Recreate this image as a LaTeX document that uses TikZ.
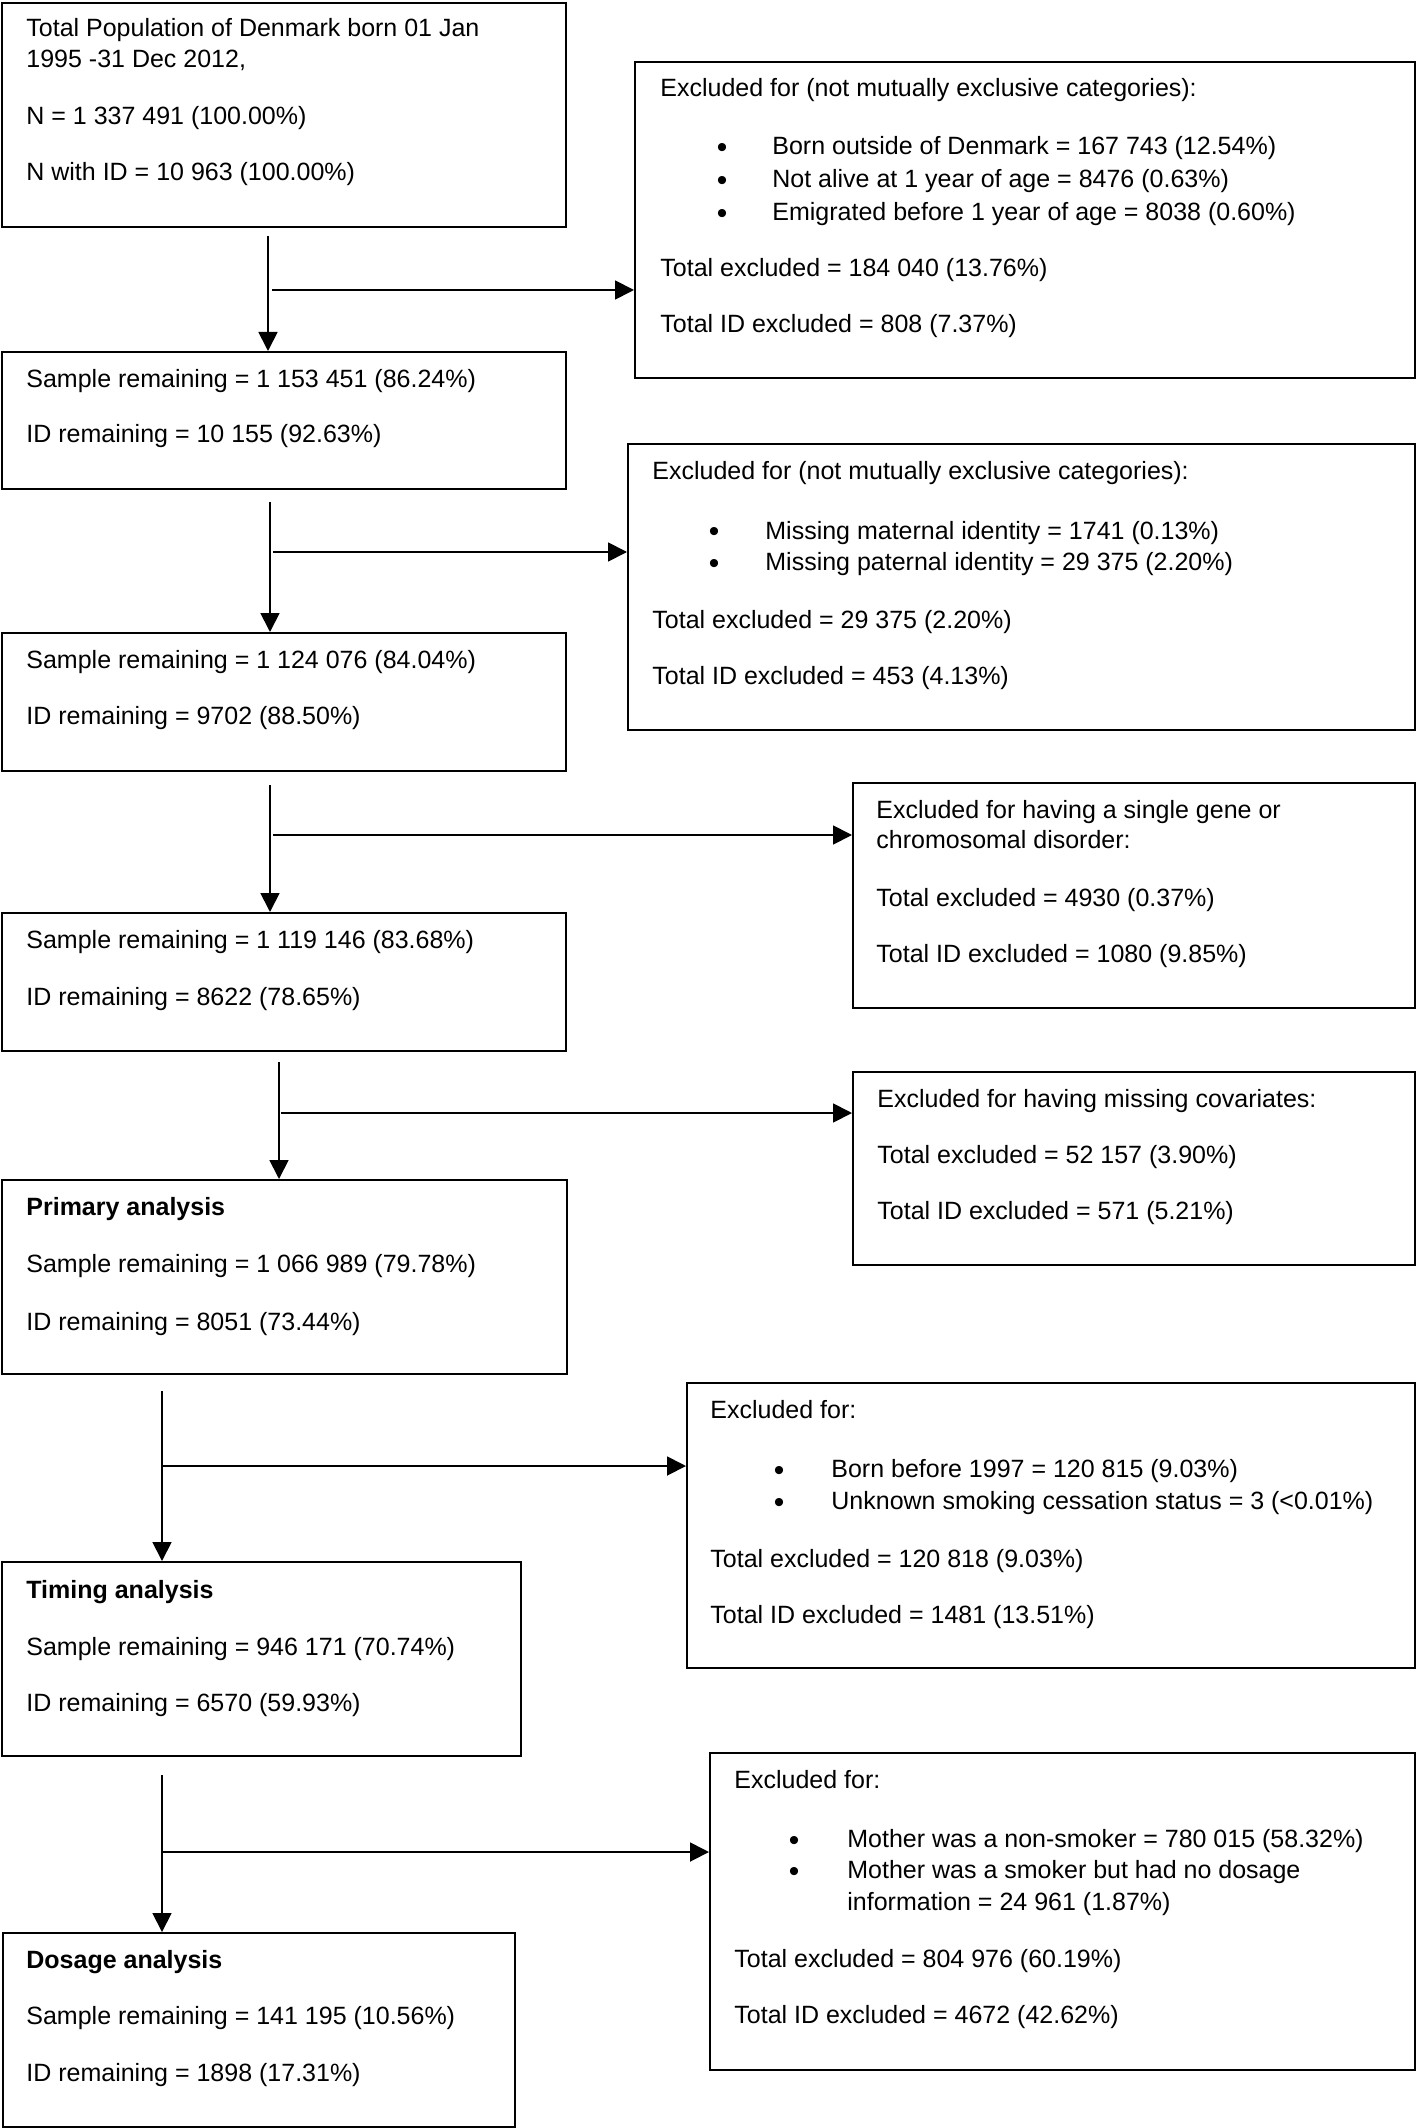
\documentclass[tikz,border=0pt]{standalone}
\usepackage{fontspec}
\setmainfont{Liberation Sans}
\usetikzlibrary{arrows.meta}
\newcommand\mkbox[5]{\node[box, minimum width={(#4-#2)*0.5pt}, minimum height={(#5-#3)*0.5pt}] (#1) at (#2,#3) {};}
\newcommand\tline[4]{\node[txt] (#1) at (#2,#3) {#4};}
\newcommand\bline[4]{\node[bld] (#1) at (#2,#3) {#4};}
\newcommand\bul[3]{\node[bulnode] (#1) at (#2,#3+3) {•};}
\begin{document}
\begin{tikzpicture}[x=0.5pt,y=-0.5pt,
  box/.style={draw=black, line width=1.2pt, inner sep=0pt, anchor=north west, rectangle},
  txt/.style={inner sep=0pt, anchor=base west, font=\fontsize{12.5}{15}\selectfont},
  bld/.style={txt, font=\fontsize{12.5}{15}\selectfont\bfseries},
  bulnode/.style={inner sep=0pt, anchor=base, font=\fontsize{15}{18}\selectfont},
  arr/.style={line width=0.9pt, -{Triangle[length=9.5pt,width=9.5pt]}}]
\useasboundingbox (0,0) rectangle (1418,2128);

% main column
\mkbox{b1}{1}{2}{565}{226}
\tline{b1a}{26}{37}{Total Population of Denmark born 01 Jan}
\tline{b1b}{26}{68}{1995 -31 Dec 2012,}
\tline{b1c}{26}{125}{N = 1 337 491 (100.00\%)}
\tline{b1d}{26}{181}{N with ID = 10 963 (100.00\%)}

\mkbox{b2}{1}{351}{565}{488}
\tline{b2a}{26}{388}{Sample remaining = 1 153 451 (86.24\%)}
\tline{b2b}{26}{443}{ID remaining = 10 155 (92.63\%)}

\mkbox{b3}{1}{632}{565}{770}
\tline{b3a}{26}{668}{Sample remaining = 1 124 076 (84.04\%)}
\tline{b3b}{26}{724}{ID remaining = 9702 (88.50\%)}

\mkbox{b4}{1}{912}{565}{1050}
\tline{b4a}{26}{948}{Sample remaining = 1 119 146 (83.68\%)}
\tline{b4b}{26}{1005}{ID remaining = 8622 (78.65\%)}

\mkbox{b5}{1}{1179}{566}{1373}
\bline{b5a}{26}{1215}{Primary analysis}
\tline{b5b}{26}{1272}{Sample remaining = 1 066 989 (79.78\%)}
\tline{b5c}{26}{1330}{ID remaining = 8051 (73.44\%)}

\mkbox{b6}{1}{1561}{520}{1755}
\bline{b6a}{26}{1598}{Timing analysis}
\tline{b6b}{26}{1655}{Sample remaining = 946 171 (70.74\%)}
\tline{b6c}{26}{1711}{ID remaining = 6570 (59.93\%)}

\mkbox{b7}{2}{1932}{514}{2126}
\bline{b7a}{26}{1968}{Dosage analysis}
\tline{b7b}{26}{2024}{Sample remaining = 141 195 (10.56\%)}
\tline{b7c}{26}{2081}{ID remaining = 1898 (17.31\%)}

% exclusion boxes
\mkbox{eA}{634}{61}{1414}{377}
\tline{eAa}{660}{97}{Excluded for (not mutually exclusive categories):}
\bul{eAb1}{722}{155}
\tline{eAb}{772}{155}{Born outside of Denmark = 167 743 (12.54\%)}
\bul{eAc1}{722}{188}
\tline{eAc}{772}{188}{Not alive at 1 year of age = 8476 (0.63\%)}
\bul{eAd1}{722}{221}
\tline{eAd}{772}{221}{Emigrated before 1 year of age = 8038 (0.60\%)}
\tline{eAe}{660}{277}{Total excluded = 184 040 (13.76\%)}
\tline{eAf}{660}{333}{Total ID excluded = 808 (7.37\%)}

\mkbox{eB}{627}{443}{1414}{729}
\tline{eBa}{652}{480}{Excluded for (not mutually exclusive categories):}
\bul{eBb1}{714}{539}
\tline{eBb}{765}{539}{Missing maternal identity = 1741 (0.13\%)}
\bul{eBc1}{714}{571}
\tline{eBc}{765}{571}{Missing paternal identity = 29 375 (2.20\%)}
\tline{eBd}{652}{628}{Total excluded = 29 375 (2.20\%)}
\tline{eBe}{652}{684}{Total ID excluded = 453 (4.13\%)}

\mkbox{eC}{852}{782}{1414}{1007}
\tline{eCa}{876}{818}{Excluded for having a single gene or}
\tline{eCb}{876}{848}{chromosomal disorder:}
\tline{eCc}{876}{906}{Total excluded = 4930 (0.37\%)}
\tline{eCd}{876}{962}{Total ID excluded = 1080 (9.85\%)}

\mkbox{eD}{852}{1071}{1414}{1264}
\tline{eDa}{877}{1107}{Excluded for having missing covariates:}
\tline{eDb}{877}{1163}{Total excluded = 52 157 (3.90\%)}
\tline{eDc}{877}{1219}{Total ID excluded = 571 (5.21\%)}

\mkbox{eE}{686}{1382}{1414}{1667}
\tline{eEa}{710}{1418}{Excluded for:}
\bul{eEb1}{779}{1477}
\tline{eEb}{831}{1477}{Born before 1997 = 120 815 (9.03\%)}
\bul{eEc1}{779}{1509}
\tline{eEc}{831}{1509}{Unknown smoking cessation status = 3 (<0.01\%)}
\tline{eEd}{710}{1567}{Total excluded = 120 818 (9.03\%)}
\tline{eEe}{710}{1623}{Total ID excluded = 1481 (13.51\%)}

\mkbox{eF}{709}{1752}{1414}{2069}
\tline{eFa}{734}{1788}{Excluded for:}
\bul{eFb1}{794}{1847}
\tline{eFb}{847}{1847}{Mother was a non-smoker = 780 015 (58.32\%)}
\bul{eFc1}{794}{1878}
\tline{eFc}{847}{1878}{Mother was a smoker but had no dosage}
\tline{eFd}{847}{1910}{information = 24 961 (1.87\%)}
\tline{eFe}{734}{1967}{Total excluded = 804 976 (60.19\%)}
\tline{eFf}{734}{2023}{Total ID excluded = 4672 (42.62\%)}

% connectors
\coordinate (s1) at (268,236);  \coordinate (j1) at (272,290);
\coordinate (s2) at (270,502);  \coordinate (j2) at (273,552);
\coordinate (s3) at (270,785);  \coordinate (j3) at (273,835);
\coordinate (s4) at (279,1062); \coordinate (j4) at (281,1113);
\coordinate (s5) at (162,1391); \coordinate (j5) at (163,1466);
\coordinate (s6) at (162,1775); \coordinate (j6) at (163,1852);

\draw[arr] (s1) -- (s1 |- b2.north);
\draw[arr] (j1) -- (j1 -| eA.west);
\draw[arr] (s2) -- (s2 |- b3.north);
\draw[arr] (j2) -- (j2 -| eB.west);
\draw[arr] (s3) -- (s3 |- b4.north);
\draw[arr] (j3) -- (j3 -| eC.west);
\draw[arr] (s4) -- (s4 |- b5.north);
\draw[arr] (j4) -- (j4 -| eD.west);
\draw[arr] (s5) -- (s5 |- b6.north);
\draw[arr] (j5) -- (j5 -| eE.west);
\draw[arr] (s6) -- (s6 |- b7.north);
\draw[arr] (j6) -- (j6 -| eF.west);
\end{tikzpicture}
\end{document}
